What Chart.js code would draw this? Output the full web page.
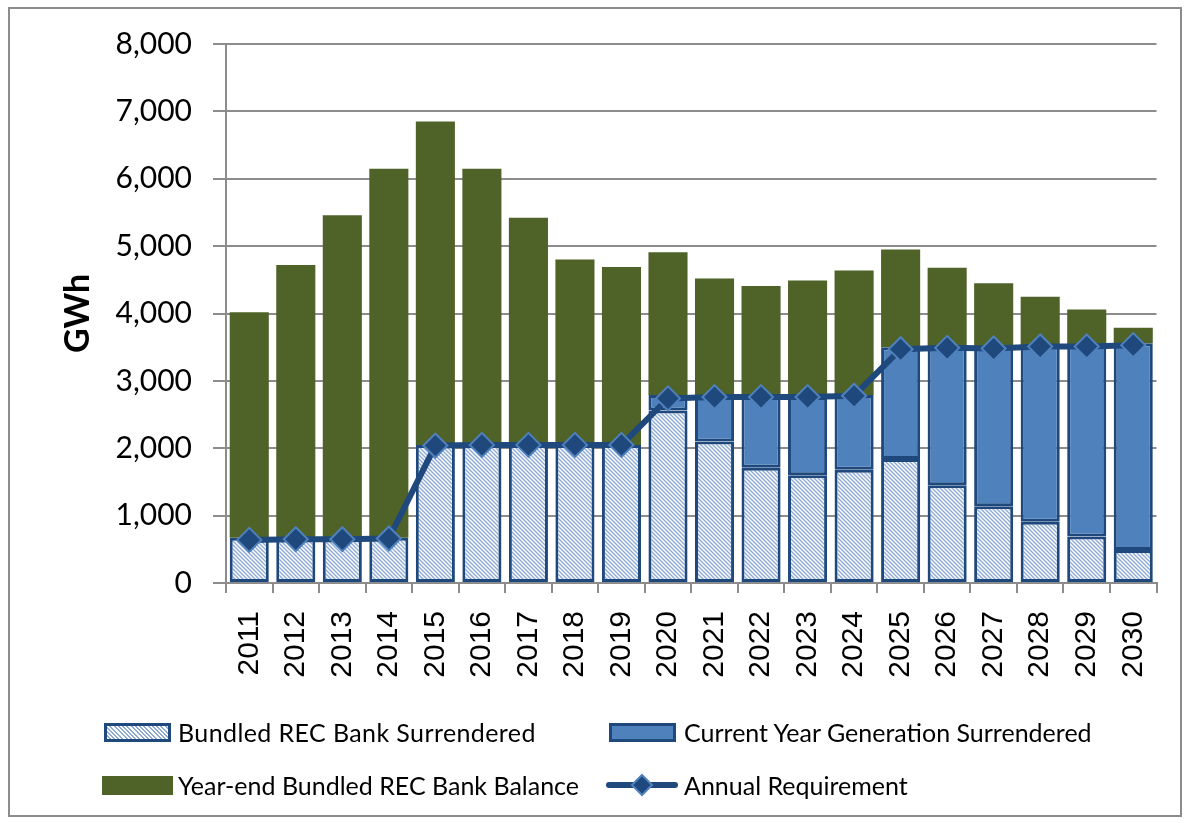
<!DOCTYPE html>
<html lang="en">
<head>
    <meta charset="UTF-8">
    <title>REC Bank</title>
    <script src="https://cdn.jsdelivr.net/npm/chart.js"></script>
    <style>
        body {
            margin: 0;
            background: white;
            font-family: Lato, 'Noto Sans', sans-serif;
        }
        #wrap {
            position: relative;
            width: 1188px;
            height: 823px;
        }
        #frame {
            position: absolute;
            left: 8px;
            top: 7px;
            width: 1170px;
            height: 806px;
            border: 2px solid #8c8c8c;
            pointer-events: none;
        }
        canvas {
            position: absolute;
            left: 0;
            top: 0;
        }
        .leg {
            position: absolute;
            font-size: 25px;
            color: #000;
            white-space: nowrap;
            line-height: 30px;
        }
        .sw {
            position: absolute;
            box-sizing: border-box;
        }
    </style>
</head>
<body>
<div id="wrap">
    <canvas id="chart" width="1188" height="823"></canvas>
    <div id="frame"></div>

    <div class="sw" style="left:104px; top:723px; width:67px; height:19px; border:3px solid #1f497d;
        background: repeating-linear-gradient(45deg, #ffffff 0 1.5px, #8eaad6 1.5px 3px);"></div>
    <div class="leg" style="left:178px; top:717px; letter-spacing:0.4px;">Bundled REC Bank Surrendered</div>

    <div class="sw" style="left:609px; top:723px; width:67px; height:19px; border:3px solid #1f497d; background:#4f81bd;"></div>
    <div class="leg" style="left:684px; top:717px;">Current Year Generation Surrendered</div>

    <div class="sw" style="left:102px; top:776px; width:71px; height:19px; background:#4f6228;"></div>
    <div class="leg" style="left:178px; top:770px;">Year-end Bundled REC Bank Balance</div>

    <svg class="sw" style="left:604px; top:772px;" width="76" height="26">
        <line x1="5" y1="13" x2="71" y2="13" stroke="#1f497d" stroke-width="6" stroke-linecap="round"/>
        <polygon points="38,3 48,13 38,23 28,13" fill="#1f497d" stroke="#4f81bd" stroke-width="2"/>
    </svg>
    <div class="leg" style="left:684px; top:770px;">Annual Requirement</div>
</div>

<script>
    const years = ['2011', '2012', '2013', '2014', '2015', '2016', '2017', '2018', '2019', '2020',
                   '2021', '2022', '2023', '2024', '2025', '2026', '2027', '2028', '2029', '2030'];

    // GWh
    const bankSurrendered = [670, 670, 670, 670, 2050, 2050, 2050, 2050, 2050, 2560,
                             2100, 1710, 1600, 1680, 1840, 1450, 1140, 910, 690, 490];
    const currentSurrendered = [null, null, null, null, null, null, null, null, null, 230,
                                660, 1050, 1160, 1110, 1660, 2050, 2360, 2600, 2830, 3070];
    const bankBalance = [3350, 4050, 4790, 5480, 4800, 4100, 3370, 2750, 2640, 2120,
                         1760, 1650, 1730, 1850, 1450, 1180, 950, 740, 540, 230];
    const requirement = [640, 650, 650, 660, 2040, 2050, 2050, 2050, 2050, 2740,
                         2760, 2760, 2760, 2780, 3470, 3490, 3480, 3510, 3510, 3530];

    const yTicks = [0, 1000, 2000, 3000, 4000, 5000, 6000, 7000, 8000];

    // diagonal hatch for the bank surrendered bars
    function makeHatch() {
        const c = document.createElement('canvas');
        c.width = 4;
        c.height = 4;
        const g = c.getContext('2d');
        g.fillStyle = '#ffffff';
        g.fillRect(0, 0, 4, 4);
        g.strokeStyle = '#8eaad6';
        g.lineWidth = 1.4;
        g.beginPath();
        g.moveTo(-1, -1); g.lineTo(5, 5);
        g.moveTo(-1, 3); g.lineTo(1, 5);
        g.moveTo(3, -1); g.lineTo(5, 1);
        g.stroke();
        return g.createPattern(c, 'repeat');
    }

    const gridGray = '#8c8c8c';
    const ctx = document.getElementById('chart').getContext('2d');

    new Chart(ctx, {
        type: 'bar',
        data: {
            labels: years,
            datasets: [
                {
                    type: 'line',
                    label: 'Annual Requirement',
                    data: requirement,
                    stack: 'req',
                    borderColor: '#1f497d',
                    borderWidth: 6,
                    tension: 0,
                    pointStyle: 'rectRot',
                    pointRadius: 12,
                    pointBackgroundColor: '#1f497d',
                    pointBorderColor: '#4f81bd',
                    pointBorderWidth: 2
                },
                {
                    label: 'Bundled REC Bank Surrendered',
                    data: bankSurrendered,
                    stack: 'bars',
                    backgroundColor: makeHatch(),
                    borderColor: '#1f497d',
                    borderWidth: 3,
                    borderSkipped: false
                },
                {
                    label: 'Current Year Generation Surrendered',
                    data: currentSurrendered,
                    stack: 'bars',
                    backgroundColor: '#4f81bd',
                    borderColor: '#1f497d',
                    borderWidth: 3,
                    borderSkipped: false
                },
                {
                    label: 'Year-end Bundled REC Bank Balance',
                    data: bankBalance,
                    stack: 'bars',
                    backgroundColor: '#4f6228',
                    borderWidth: 0
                }
            ]
        },
        options: {
            responsive: false,
            animation: false,
            barPercentage: 0.84,
            categoryPercentage: 1.0,
            layout: {
                padding: { left: 0, top: 44, right: 30, bottom: 120 }
            },
            plugins: {
                legend: { display: false },
                tooltip: { enabled: false }
            },
            scales: {
                x: {
                    stacked: true,
                    afterFit: s => { s.height = 120; },
                    grid: {
                        offset: true,
                        drawOnChartArea: false,
                        drawTicks: true,
                        tickLength: 10,
                        color: gridGray,
                        lineWidth: 2
                    },
                    border: { display: true, color: gridGray, width: 2 },
                    ticks: {
                        autoSkip: false,
                        maxRotation: 90,
                        minRotation: 90,
                        padding: 18,
                        color: '#000',
                        font: { family: 'Liberation Sans', size: 30 }
                    }
                },
                y: {
                    stacked: true,
                    min: 0,
                    max: 8000,
                    afterFit: s => { s.width = 226; },
                    afterBuildTicks: s => { s.ticks = yTicks.map(v => ({ value: v })); },
                    grid: {
                        color: gridGray,
                        lineWidth: 2,
                        drawTicks: true,
                        tickLength: 13
                    },
                    border: { display: true, color: gridGray, width: 2 },
                    ticks: {
                        padding: 21,
                        color: '#000',
                        font: { family: 'Lato', size: 30 },
                        callback: v => v.toLocaleString('en-US')
                    },
                    title: {
                        display: true,
                        text: 'GWh',
                        color: '#000',
                        padding: { top: 58, bottom: 0 },
                        font: { family: 'Lato', size: 34, weight: 'bold' }
                    }
                }
            }
        }
    });
</script>
</body>
</html>
